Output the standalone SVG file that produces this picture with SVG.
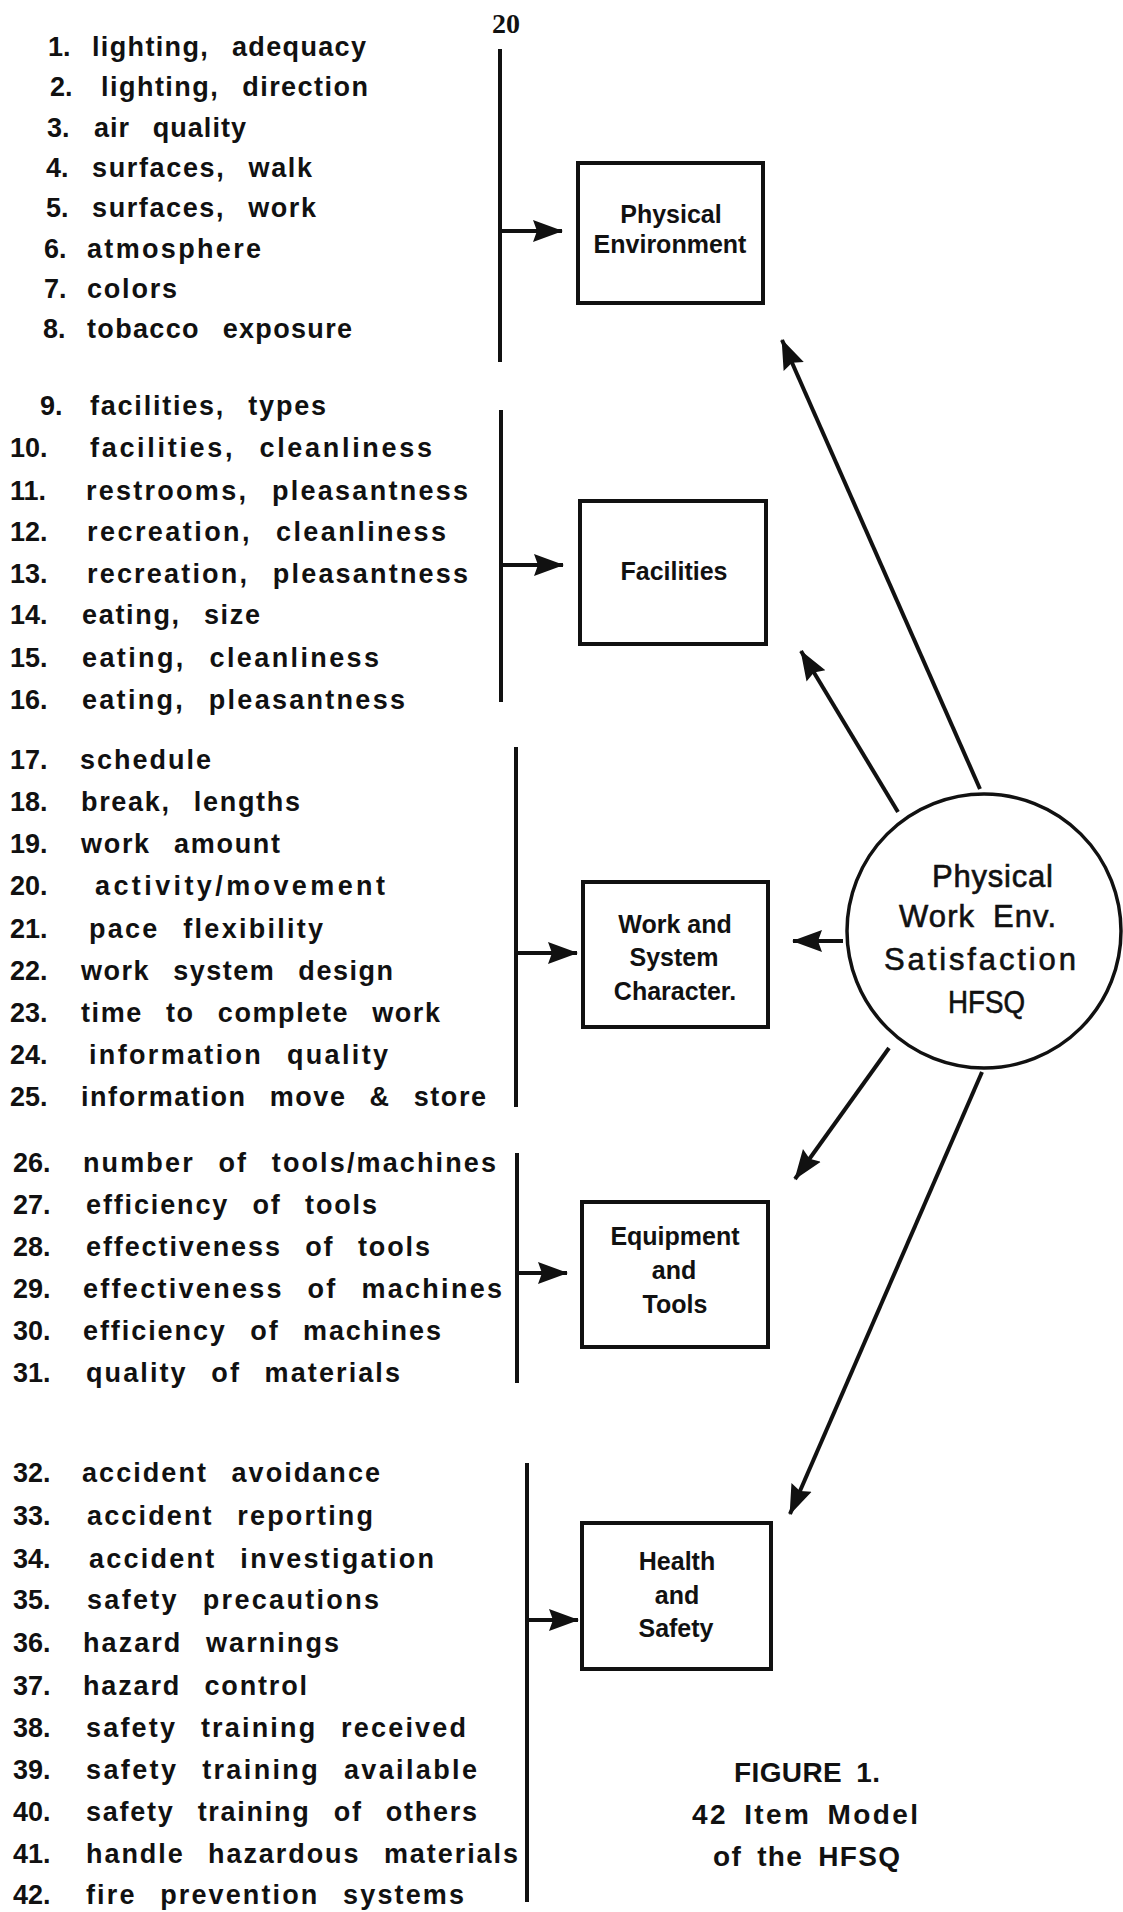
<svg xmlns="http://www.w3.org/2000/svg" width="1123" height="1912" viewBox="0 0 1123 1912">
<style>
.bg{fill:#fff}
.it{font-family:"Liberation Sans",Arial,sans-serif;font-weight:bold;font-size:27px;fill:#111;word-spacing:14px}
.bx{font-family:"Liberation Sans",Arial,sans-serif;font-weight:bold;font-size:25px;fill:#111;text-anchor:middle}
.ci{font-family:"Liberation Sans",Arial,sans-serif;font-size:31px;fill:#111;stroke:#111;stroke-width:0.6;word-spacing:8px}
.cap{font-family:"Liberation Sans",Arial,sans-serif;font-weight:bold;font-size:28px;fill:#111;word-spacing:6px}
.pg{font-family:"Liberation Serif","Times New Roman",serif;font-weight:bold;font-size:28px;fill:#111;text-anchor:middle}
.box{fill:#fff;stroke:#111;stroke-width:4}
.br{stroke:#111;stroke-width:4;fill:none}
.ar{stroke:#111;stroke-width:4;fill:none;marker-end:url(#ah)}
</style>
<defs>
<marker id="ah" viewBox="0 0 30 24" markerWidth="30" markerHeight="24" refX="29" refY="12" orient="auto" markerUnits="userSpaceOnUse">
<path d="M0,1 L30,12 L0,23 L4,12 z" fill="#111"/>
</marker>
</defs>
<rect class="bg" x="0" y="0" width="1123" height="1912"/>
<text class="pg" x="506" y="33">20</text>

<g id="items-physical">
<text class="it" x="48" y="56">1.</text><text class="it" x="92" y="56" textLength="274" lengthAdjust="spacing">lighting, adequacy</text>
<text class="it" x="50" y="96">2.</text><text class="it" x="101" y="96" textLength="267" lengthAdjust="spacing">lighting, direction</text>
<text class="it" x="47" y="137">3.</text><text class="it" x="94" y="137" textLength="152" lengthAdjust="spacing">air quality</text>
<text class="it" x="46" y="177">4.</text><text class="it" x="92" y="177" textLength="220" lengthAdjust="spacing">surfaces, walk</text>
<text class="it" x="46" y="217">5.</text><text class="it" x="92" y="217" textLength="224" lengthAdjust="spacing">surfaces, work</text>
<text class="it" x="44" y="258">6.</text><text class="it" x="87" y="258" textLength="174" lengthAdjust="spacing">atmosphere</text>
<text class="it" x="44" y="298">7.</text><text class="it" x="87" y="298" textLength="90" lengthAdjust="spacing">colors</text>
<text class="it" x="43" y="338">8.</text><text class="it" x="87" y="338" textLength="265" lengthAdjust="spacing">tobacco exposure</text>
</g>

<g id="items-facilities">
<text class="it" x="40" y="415">9.</text><text class="it" x="90" y="415" textLength="236" lengthAdjust="spacing">facilities, types</text>
<text class="it" x="10" y="457">10.</text><text class="it" x="90" y="457" textLength="342" lengthAdjust="spacing">facilities, cleanliness</text>
<text class="it" x="10" y="500">11.</text><text class="it" x="86" y="500" textLength="382" lengthAdjust="spacing">restrooms, pleasantness</text>
<text class="it" x="10" y="541">12.</text><text class="it" x="87" y="541" textLength="359" lengthAdjust="spacing">recreation, cleanliness</text>
<text class="it" x="10" y="583">13.</text><text class="it" x="87" y="583" textLength="381" lengthAdjust="spacing">recreation, pleasantness</text>
<text class="it" x="10" y="624">14.</text><text class="it" x="82" y="624" textLength="178" lengthAdjust="spacing">eating, size</text>
<text class="it" x="10" y="667">15.</text><text class="it" x="82" y="667" textLength="297" lengthAdjust="spacing">eating, cleanliness</text>
<text class="it" x="10" y="709">16.</text><text class="it" x="82" y="709" textLength="323" lengthAdjust="spacing">eating, pleasantness</text>
</g>

<g id="items-work">
<text class="it" x="10" y="769">17.</text><text class="it" x="80" y="769" textLength="131" lengthAdjust="spacing">schedule</text>
<text class="it" x="10" y="811">18.</text><text class="it" x="81" y="811" textLength="219" lengthAdjust="spacing">break, lengths</text>
<text class="it" x="10" y="853">19.</text><text class="it" x="81" y="853" textLength="199" lengthAdjust="spacing">work amount</text>
<text class="it" x="10" y="895">20.</text><text class="it" x="95" y="895" textLength="290" lengthAdjust="spacing">activity/movement</text>
<text class="it" x="10" y="938">21.</text><text class="it" x="89" y="938" textLength="234" lengthAdjust="spacing">pace flexibility</text>
<text class="it" x="10" y="980">22.</text><text class="it" x="81" y="980" textLength="312" lengthAdjust="spacing">work system design</text>
<text class="it" x="10" y="1022">23.</text><text class="it" x="81" y="1022" textLength="359" lengthAdjust="spacing">time to complete work</text>
<text class="it" x="10" y="1064">24.</text><text class="it" x="89" y="1064" textLength="299" lengthAdjust="spacing">information quality</text>
<text class="it" x="10" y="1106">25.</text><text class="it" x="81" y="1106" textLength="405" lengthAdjust="spacing">information move &amp; store</text>
</g>

<g id="items-equipment">
<text class="it" x="13" y="1172">26.</text><text class="it" x="83" y="1172" textLength="413" lengthAdjust="spacing">number of tools/machines</text>
<text class="it" x="13" y="1214">27.</text><text class="it" x="86" y="1214" textLength="291" lengthAdjust="spacing">efficiency of tools</text>
<text class="it" x="13" y="1256">28.</text><text class="it" x="86" y="1256" textLength="344" lengthAdjust="spacing">effectiveness of tools</text>
<text class="it" x="13" y="1298">29.</text><text class="it" x="83" y="1298" textLength="419" lengthAdjust="spacing">effectiveness of machines</text>
<text class="it" x="13" y="1340">30.</text><text class="it" x="83" y="1340" textLength="358" lengthAdjust="spacing">efficiency of machines</text>
<text class="it" x="13" y="1382">31.</text><text class="it" x="86" y="1382" textLength="314" lengthAdjust="spacing">quality of materials</text>
</g>

<g id="items-health">
<text class="it" x="13" y="1482">32.</text><text class="it" x="82" y="1482" textLength="298" lengthAdjust="spacing">accident avoidance</text>
<text class="it" x="13" y="1525">33.</text><text class="it" x="87" y="1525" textLength="286" lengthAdjust="spacing">accident reporting</text>
<text class="it" x="13" y="1568">34.</text><text class="it" x="89" y="1568" textLength="345" lengthAdjust="spacing">accident investigation</text>
<text class="it" x="13" y="1609">35.</text><text class="it" x="87" y="1609" textLength="292" lengthAdjust="spacing">safety precautions</text>
<text class="it" x="13" y="1652">36.</text><text class="it" x="83" y="1652" textLength="256" lengthAdjust="spacing">hazard warnings</text>
<text class="it" x="13" y="1695">37.</text><text class="it" x="83" y="1695" textLength="224" lengthAdjust="spacing">hazard control</text>
<text class="it" x="13" y="1737">38.</text><text class="it" x="86" y="1737" textLength="380" lengthAdjust="spacing">safety training received</text>
<text class="it" x="13" y="1779">39.</text><text class="it" x="86" y="1779" textLength="391" lengthAdjust="spacing">safety training available</text>
<text class="it" x="13" y="1821">40.</text><text class="it" x="86" y="1821" textLength="391" lengthAdjust="spacing">safety training of others</text>
<text class="it" x="13" y="1863">41.</text><text class="it" x="86" y="1863" textLength="432" lengthAdjust="spacing">handle hazardous materials</text>
<text class="it" x="13" y="1904">42.</text><text class="it" x="86" y="1904" textLength="378" lengthAdjust="spacing">fire prevention systems</text>
</g>

<g id="node-physical-environment">
<rect class="box" x="578" y="163" width="185" height="140"/>
<text class="bx" x="671" y="223">Physical</text>
<text class="bx" x="670" y="253">Environment</text>
</g>
<g id="node-facilities">
<rect class="box" x="580" y="501" width="186" height="143"/>
<text class="bx" x="674" y="580">Facilities</text>
</g>
<g id="node-work-system">
<rect class="box" x="583" y="882" width="185" height="145"/>
<text class="bx" x="675" y="933">Work and</text>
<text class="bx" x="674" y="966">System</text>
<text class="bx" x="675" y="1000">Character.</text>
</g>
<g id="node-equipment-tools">
<rect class="box" x="582" y="1202" width="186" height="145"/>
<text class="bx" x="675" y="1245">Equipment</text>
<text class="bx" x="674" y="1279">and</text>
<text class="bx" x="675" y="1313">Tools</text>
</g>
<g id="node-health-safety">
<rect class="box" x="582" y="1523" width="189" height="146"/>
<text class="bx" x="677" y="1570">Health</text>
<text class="bx" x="677" y="1604">and</text>
<text class="bx" x="676" y="1637">Safety</text>
</g>
<g id="node-hfsq">
<circle cx="984" cy="931" r="137" fill="#fff" stroke="#111" stroke-width="3.5"/>
<text class="ci" x="932" y="887" textLength="121" lengthAdjust="spacing">Physical</text>
<text class="ci" x="899" y="927" textLength="157" lengthAdjust="spacing">Work Env.</text>
<text class="ci" x="884" y="970" textLength="192" lengthAdjust="spacing">Satisfaction</text>
<text class="ci" x="948" y="1013" textLength="77" lengthAdjust="spacingAndGlyphs">HFSQ</text>
</g>

<g id="connectors">
<line class="br" x1="500" y1="49" x2="500" y2="362"/>
<line class="br" x1="501" y1="410" x2="501" y2="702"/>
<line class="br" x1="516" y1="747" x2="516" y2="1107"/>
<line class="br" x1="517" y1="1153" x2="517" y2="1383"/>
<line class="br" x1="527" y1="1463" x2="527" y2="1902"/>
<line class="ar" x1="500" y1="231" x2="562" y2="231"/>
<line class="ar" x1="501" y1="565" x2="563" y2="565"/>
<line class="ar" x1="516" y1="953" x2="577" y2="953"/>
<line class="ar" x1="517" y1="1273" x2="567" y2="1273"/>
<line class="ar" x1="527" y1="1620" x2="578" y2="1620"/>
<line class="ar" x1="980" y1="789" x2="782" y2="340"/>
<line class="ar" x1="898" y1="812" x2="801" y2="651"/>
<line class="ar" x1="843" y1="941" x2="793" y2="941"/>
<line class="ar" x1="889" y1="1048" x2="795" y2="1179"/>
<line class="ar" x1="982" y1="1072" x2="790" y2="1514"/>
</g>

<g id="caption">
<text class="cap" x="734" y="1782" textLength="146" lengthAdjust="spacing">FIGURE 1.</text>
<text class="cap" x="692" y="1824" textLength="226" lengthAdjust="spacing">42 Item Model</text>
<text class="cap" x="713" y="1866" textLength="187" lengthAdjust="spacing">of the HFSQ</text>
</g>
</svg>
